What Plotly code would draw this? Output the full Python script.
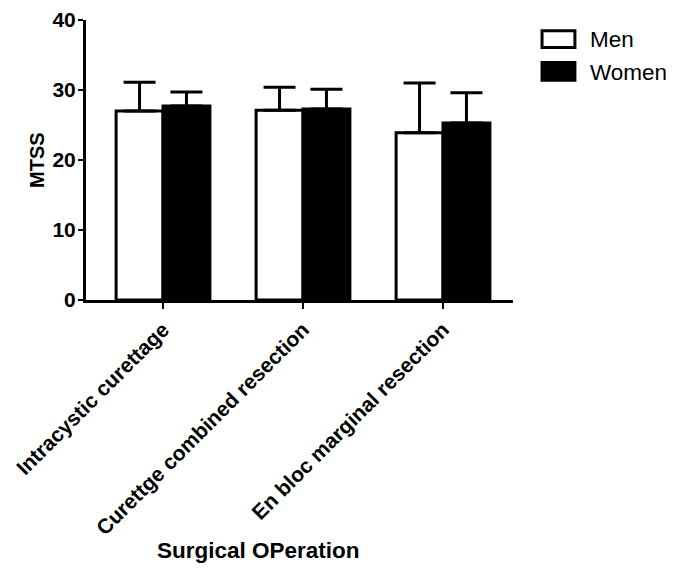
import plotly.graph_objects as go

categories = ["Intracystic curettage", "Curettge combined resection", "En bloc marginal resection"]
men_mean = [27.0, 27.1, 23.9]
men_sd = [4.1, 3.3, 7.1]
women_mean = [27.7, 27.3, 25.3]
women_sd = [2.0, 2.8, 4.3]
series_names = ["Men", "Women"]

FONT = "Liberation Sans, Arial, sans-serif"

fig = go.Figure()
fig.add_trace(go.Bar(
    x=categories, y=men_mean, name=series_names[0],
    marker=dict(color="white", line=dict(color="black", width=3)),
    error_y=dict(type="data", array=men_sd, arrayminus=[0, 0, 0], symmetric=False,
                 color="black", thickness=3, width=16),
))
fig.add_trace(go.Bar(
    x=categories, y=women_mean, name=series_names[1],
    marker=dict(color="black", line=dict(color="black", width=3)),
    error_y=dict(type="data", array=women_sd, arrayminus=[0, 0, 0], symmetric=False,
                 color="black", thickness=3, width=16),
))

# manual legend (wide rectangular swatches like the reference)
shapes = [
    dict(type="rect", xref="paper", yref="paper", x0=1.068, x1=1.145, y0=0.902, y1=0.962,
         fillcolor="white", line=dict(color="black", width=3)),
    dict(type="rect", xref="paper", yref="paper", x0=1.068, x1=1.145, y0=0.785, y1=0.848,
         fillcolor="black", line=dict(color="black", width=3)),
]
annotations = [
    dict(text=series_names[0], x=1.176, y=0.929, xref="paper", yref="paper",
         xanchor="left", yanchor="middle", showarrow=False,
         font=dict(size=22.5, color="black", family=FONT)),
    dict(text=series_names[1], x=1.176, y=0.814, xref="paper", yref="paper",
         xanchor="left", yanchor="middle", showarrow=False,
         font=dict(size=22.5, color="black", family=FONT)),
    dict(text="Surgical OPeration", x=0.405, y=-0.893, xref="paper", yref="paper",
         xanchor="center", yanchor="middle", showarrow=False,
         font=dict(size=22.5, weight="bold", color="black", family=FONT)),
    dict(text="MTSS", x=-0.115, y=0.5, xref="paper", yref="paper", textangle=-90,
         xanchor="center", yanchor="middle", showarrow=False,
         font=dict(size=20, weight="bold", color="black", family=FONT)),
]

fig.update_layout(
    width=659, height=560,
    margin=dict(l=78, r=154, t=12, b=268, autoexpand=False),
    paper_bgcolor="white", plot_bgcolor="white",
    barmode="group", bargap=0.33, bargroupgap=0,
    font=dict(family=FONT, color="black"),
    showlegend=False,
    shapes=shapes,
    annotations=annotations,
    xaxis=dict(
        range=[-0.55, 2.5], showline=True, linecolor="black", linewidth=3,
        ticks="outside", ticklen=6, tickwidth=2, tickcolor="black",
        tickangle=-45, tickfont=dict(size=21, family=FONT, weight="bold"),
        showgrid=False, zeroline=False, automargin=False,
    ),
    yaxis=dict(
        range=[0, 40], tickvals=[0, 10, 20, 30, 40], showline=True, linecolor="black",
        linewidth=3, ticks="outside", ticklen=5, tickwidth=2, tickcolor="black",
        ticklabelstandoff=-2,
        tickfont=dict(size=21, family=FONT, weight="bold"), showgrid=False, zeroline=False,
        automargin=False,
    ),
)

fig.write_html("out.html")
